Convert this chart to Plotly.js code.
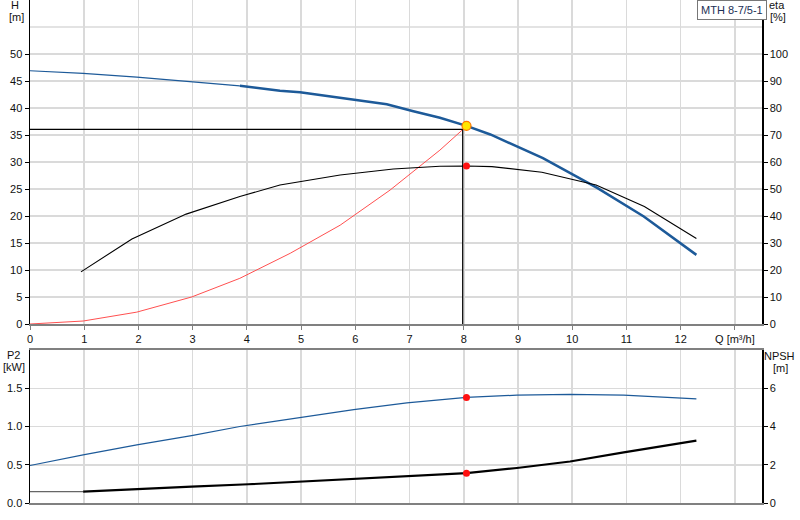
<!DOCTYPE html>
<html>
<head>
<meta charset="utf-8">
<script src="https://cdn.plot.ly/plotly-3.0.1.min.js"></script>
<style>
  html, body { margin: 0; padding: 0; background: #fff; }
  #chart { width: 800px; height: 520px; }
</style>
</head>
<body>
<div id="chart"></div>
<script>
// pump curve data, Q in m3/h
const hThinQ = [0, 0.98, 1.97, 2.98, 3.87];
const hThin = [46.9, 46.4, 45.7, 44.9, 44.1];
const hQ = [3.87, 4.61, 4.98, 5.97, 6.58, 7.07, 7.56, 8.05, 8.49, 9.46, 10.46, 11.32, 12.29];
const hVal = [44.1, 43.2, 42.9, 41.6, 40.7, 39.4, 38.2, 36.7, 35.1, 30.7, 25.2, 19.9, 12.8];

const etaQ = [0.94, 1.88, 2.88, 3.87, 4.61, 5.72, 6.70, 7.56, 8.05, 8.52, 9.44, 10.44, 11.33, 12.29];
const etaVal = [19.3, 31.5, 40.7, 47.2, 51.5, 55.2, 57.4, 58.4, 58.5, 58.3, 56.2, 51.5, 43.5, 31.7];

const sysQ = [0, 0.98, 1.97, 2.98, 3.87, 4.80, 5.72, 6.64, 7.56, 7.98];
const sysH = [0, 0.55, 2.2, 5.0, 8.46, 13.1, 18.3, 24.8, 32.2, 36.0];

const p2Q = [0, 0.98, 1.97, 2.98, 3.87, 4.98, 5.97, 6.95, 8.05, 8.98, 9.96, 10.95, 12.29];
const p2Val = [0.49, 0.63, 0.76, 0.88, 1.0, 1.12, 1.22, 1.31, 1.38, 1.41, 1.42, 1.41, 1.36];

const npshThinQ = [0, 0.98];
const npshThin = [0.59, 0.59];
const npshQ = [0.98, 1.97, 2.98, 4.03, 4.98, 5.97, 6.95, 8.05, 8.98, 9.96, 10.95, 12.29];
const npshVal = [0.59, 0.74, 0.86, 0.98, 1.12, 1.26, 1.38, 1.56, 1.83, 2.17, 2.65, 3.26];

// duty point
const dutyQ = 8.05;
const dutyH = 36.7;
const dutyEta = 58.5;
const dutyP2 = 1.38;
const dutyNpsh = 1.56;
const crossQ = 7.98;
const crossH = 36.05;

const qTicks = [0, 1, 2, 3, 4, 5, 6, 7, 8, 9, 10, 11, 12, 13];
const qTickText = ['0', '1', '2', '3', '4', '5', '6', '7', '8', '9', '10', '11', '12', 'Q [m³/h]'];
const hTicks = [0, 5, 10, 15, 20, 25, 30, 35, 40, 45, 50];
const etaTicks = [0, 10, 20, 30, 40, 50, 60, 70, 80, 90, 100];
const p2Ticks = [0, 0.5, 1.0, 1.5];
const npshTicks = [0, 2, 4, 6];

const blue = '#1d5a99';
const grid = '#dadada';
const font = { family: 'Liberation Sans, Arial, sans-serif', size: 11, color: '#111' };

const traces = [
    { x: hThinQ, y: hThin, xaxis: 'x', yaxis: 'y', mode: 'lines', line: { color: blue, width: 1.2 } },
    { x: hQ, y: hVal, xaxis: 'x', yaxis: 'y', mode: 'lines', line: { color: blue, width: 2.5 } },
    { x: etaQ, y: etaVal, xaxis: 'x', yaxis: 'y2', mode: 'lines', line: { color: '#000', width: 1.1 } },
    { x: sysQ, y: sysH, xaxis: 'x', yaxis: 'y', mode: 'lines', line: { color: '#ff5050', width: 1 } },
    { x: [0, crossQ, crossQ], y: [crossH, crossH, 0], xaxis: 'x', yaxis: 'y', mode: 'lines', line: { color: '#000', width: 1.2 } },
    { x: [dutyQ], y: [dutyEta], xaxis: 'x', yaxis: 'y2', mode: 'markers', marker: { color: '#ff1010', size: 7 } },
    { x: [dutyQ], y: [dutyH], xaxis: 'x', yaxis: 'y', mode: 'markers', marker: { color: '#ffe600', size: 9, line: { color: '#ff7a00', width: 1.2 } } },

    { x: p2Q, y: p2Val, xaxis: 'x2', yaxis: 'y3', mode: 'lines', line: { color: blue, width: 1.2 } },
    { x: npshThinQ, y: npshThin, xaxis: 'x2', yaxis: 'y4', mode: 'lines', line: { color: '#666', width: 1.2 } },
    { x: npshQ, y: npshVal, xaxis: 'x2', yaxis: 'y4', mode: 'lines', line: { color: '#000', width: 2.2 } },
    { x: [dutyQ], y: [dutyP2], xaxis: 'x2', yaxis: 'y3', mode: 'markers', marker: { color: '#ff1010', size: 7 } },
    { x: [dutyQ], y: [dutyNpsh], xaxis: 'x2', yaxis: 'y4', mode: 'markers', marker: { color: '#ff1010', size: 7 } },
];

const dom = [30 / 800, 762 / 800];

// axis title text placed at pixel spots of the picture
const label = (text, px, py, anchor) => ({
    xref: 'paper', yref: 'paper', x: px / 800, y: 1 - py / 520,
    xanchor: anchor, yanchor: 'middle', showarrow: false, text: text, font: { size: 11 },
});

const layout = {
    width: 800,
    height: 520,
    margin: { l: 0, r: 0, t: 0, b: 0 },
    paper_bgcolor: '#fff',
    plot_bgcolor: '#fff',
    showlegend: false,
    font: font,
    xaxis: {
        domain: dom, anchor: 'y', range: [0, 13.5],
        tickvals: qTicks, ticktext: qTickText,
        showgrid: true, gridcolor: grid, gridwidth: 1.5, zeroline: false,
        showline: true, linecolor: '#808080', linewidth: 2,
        ticks: 'outside', ticklen: 4, tickcolor: '#808080',
    },
    yaxis: {
        domain: [1 - 324 / 520, 1], anchor: 'x', range: [0, 60],
        tickvals: hTicks,
        showgrid: true, gridcolor: grid, gridwidth: 1.5, zeroline: false,
        showline: true, linecolor: '#000', linewidth: 1.5,
        ticks: 'outside', ticklen: 4, tickcolor: '#000',
    },
    yaxis2: {
        overlaying: 'y', side: 'right', anchor: 'x', range: [0, 120],
        tickvals: etaTicks, showgrid: false, zeroline: false,
        showline: true, linecolor: '#000', linewidth: 1.5,
        ticks: 'outside', ticklen: 4, tickcolor: '#000',
    },
    xaxis2: {
        domain: dom, anchor: 'y3', range: [0, 13.5],
        tickvals: qTicks, showticklabels: false,
        showgrid: true, gridcolor: grid, gridwidth: 1.5, zeroline: false,
        showline: true, mirror: true, linecolor: '#808080', linewidth: 2,
        ticks: '',
    },
    yaxis3: {
        domain: [1 - 503 / 520, 1 - 350 / 520], anchor: 'x2', range: [0, 2.0],
        tickvals: p2Ticks, tickformat: '.1f',
        showgrid: true, gridcolor: grid, gridwidth: 1.5, zeroline: false,
        showline: true, linecolor: '#000', linewidth: 1.5,
        ticks: 'outside', ticklen: 4, tickcolor: '#000',
    },
    yaxis4: {
        overlaying: 'y3', side: 'right', anchor: 'x2', range: [0, 8],
        tickvals: npshTicks, showgrid: false, zeroline: false,
        showline: true, linecolor: '#000', linewidth: 1.5,
        ticks: 'outside', ticklen: 4, tickcolor: '#000',
    },
    shapes: [
        // grid line at 55 that has no label
        { type: 'line', xref: 'x', yref: 'y', x0: 0, x1: 13.5, y0: 55, y1: 55, layer: 'below', line: { color: grid, width: 1.5 } },
    ],
    annotations: [
        label('H', 15, 5, 'center'),
        label('[m]', 16, 17, 'center'),
        label('eta', 767, 5, 'left'),
        label('[%]', 768, 17, 'left'),
        label('P2', 13, 355, 'center'),
        label('[kW]', 14, 367, 'center'),
        label('NPSH', 779, 356, 'center'),
        label('[m]', 780, 368, 'center'),
        { xref: 'paper', yref: 'paper', x: 697 / 800, y: 1, xanchor: 'left', yanchor: 'top', showarrow: false,
          text: 'MTH 8-7/5-1', font: { size: 11, color: '#1a2f55' },
          bgcolor: '#fff', bordercolor: '#777', borderwidth: 1, borderpad: 3 },
    ],
};

Plotly.newPlot('chart', traces, layout, { staticPlot: true });
</script>
</body>
</html>
